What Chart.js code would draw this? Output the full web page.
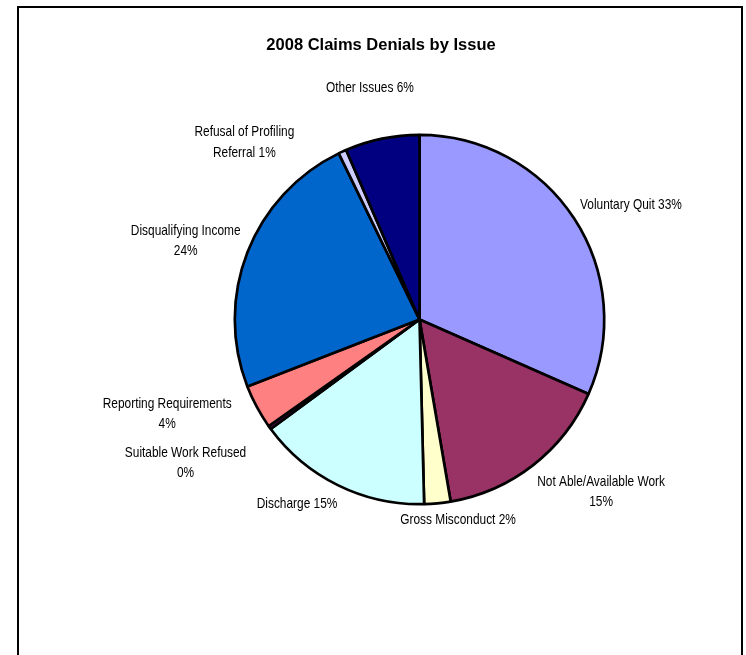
<!DOCTYPE html>
<html lang="en">
<head>
  <meta charset="UTF-8">
  <title>2008 Claims Denials by Issue</title>
  <script src="https://cdn.jsdelivr.net/npm/chart.js"></script>
  <style>
    body {
      margin: 0;
      padding: 0;
      background: #fff;
      overflow: hidden;
    }
    #frame {
      position: absolute;
      left: 17px;
      top: 6px;
      width: 722px;
      height: 700px;
      border: 2px solid #000;
    }
    #chartBox {
      position: absolute;
      left: 0;
      top: 0;
      width: 746px;
      height: 655px;
    }
  </style>
</head>
<body>
  <div id="frame"></div>
  <div id="chartBox">
    <canvas id="pieChart" width="746" height="655"></canvas>
  </div>
  <script>
    const title = '2008 Claims Denials by Issue';
    const categories = [
      ['Voluntary Quit'],
      ['Not Able/Available Work'],
      ['Gross Misconduct'],
      ['Discharge'],
      ['Suitable Work Refused'],
      ['Reporting Requirements'],
      ['Disqualifying Income'],
      ['Refusal of Profiling', 'Referral'],
      ['Other Issues']
    ];
    // slice sizes
    const values = [31.6, 15.7, 2.3, 15.3, 0.3, 3.9, 23.7, 0.7, 6.5];
    // percentages as printed on the labels
    const pctLabels = ['33%', '15%', '2%', '15%', '0%', '4%', '24%', '1%', '6%'];
    // does the percentage go on its own line?
    const pctOwnLine = [false, true, false, false, true, true, true, false, false];
    const colors = ['#9999FF', '#993366', '#FFFFCC', '#CCFFFF', '#660066',
                    '#FF8080', '#0066CC', '#CCCCFF', '#000080'];

    // label placement: angle shift from slice middle (deg), distance in radii
    const labelShift = [4.6, -8.5, -5.3, 7.5, 4.3, 7.7, -2.9, -20.0, -0.4];
    const labelDist = [1.303, 1.356, 1.107, 1.198, 1.486, 1.459, 1.335, 1.349, 1.28];

    // no Arial Narrow here, so squeeze Liberation Sans sideways
    const labelFont = '14.5px "Liberation Sans", Arial, sans-serif';
    const narrow = 0.82;
    const lineH = 20.5;

    const labelPlugin = {
      id: 'sliceLabels',
      afterDraw(chart) {
        const ctx = chart.ctx;
        const meta = chart.getDatasetMeta(0);
        ctx.save();
        ctx.fillStyle = '#000';
        ctx.textAlign = 'center';
        ctx.textBaseline = 'middle';

        // title, centred in the frame
        ctx.font = 'bold 16.5px "Liberation Sans", Arial, sans-serif';
        ctx.fillText(title, 381, 45);

        ctx.font = labelFont;
        meta.data.forEach((arc, i) => {
          const p = arc.getProps(['x', 'y', 'startAngle', 'endAngle', 'outerRadius'], true);
          const mid = (p.startAngle + p.endAngle) / 2 + labelShift[i] * Math.PI / 180;
          const d = p.outerRadius * labelDist[i];
          const cx = p.x + Math.cos(mid) * d;
          const cy = p.y + Math.sin(mid) * d;
          const lines = categories[i].slice();
          if (pctOwnLine[i]) {
            lines.push(pctLabels[i]);
          } else {
            lines[lines.length - 1] += ' ' + pctLabels[i];
          }
          const top = cy - (lines.length - 1) * lineH / 2;
          lines.forEach((t, j) => {
            ctx.save();
            ctx.translate(cx, top + j * lineH);
            ctx.scale(narrow, 1);
            ctx.fillText(t, 0, 0);
            ctx.restore();
          });
        });
        ctx.restore();
      }
    };

    new Chart(document.getElementById('pieChart'), {
      type: 'pie',
      data: {
        labels: categories.map(c => c.join(' ')),
        datasets: [{
          data: values,
          backgroundColor: colors,
          borderColor: '#000',
          borderWidth: 2.7
        }]
      },
      options: {
        responsive: false,
        animation: false,
        radius: 184.7,
        layout: {
          padding: { left: 219.5, right: 126.5, top: 119.5, bottom: 135.5 }
        },
        plugins: {
          legend: { display: false },
          title: { display: false },
          tooltip: { enabled: false }
        }
      },
      plugins: [labelPlugin]
    });
  </script>
</body>
</html>
